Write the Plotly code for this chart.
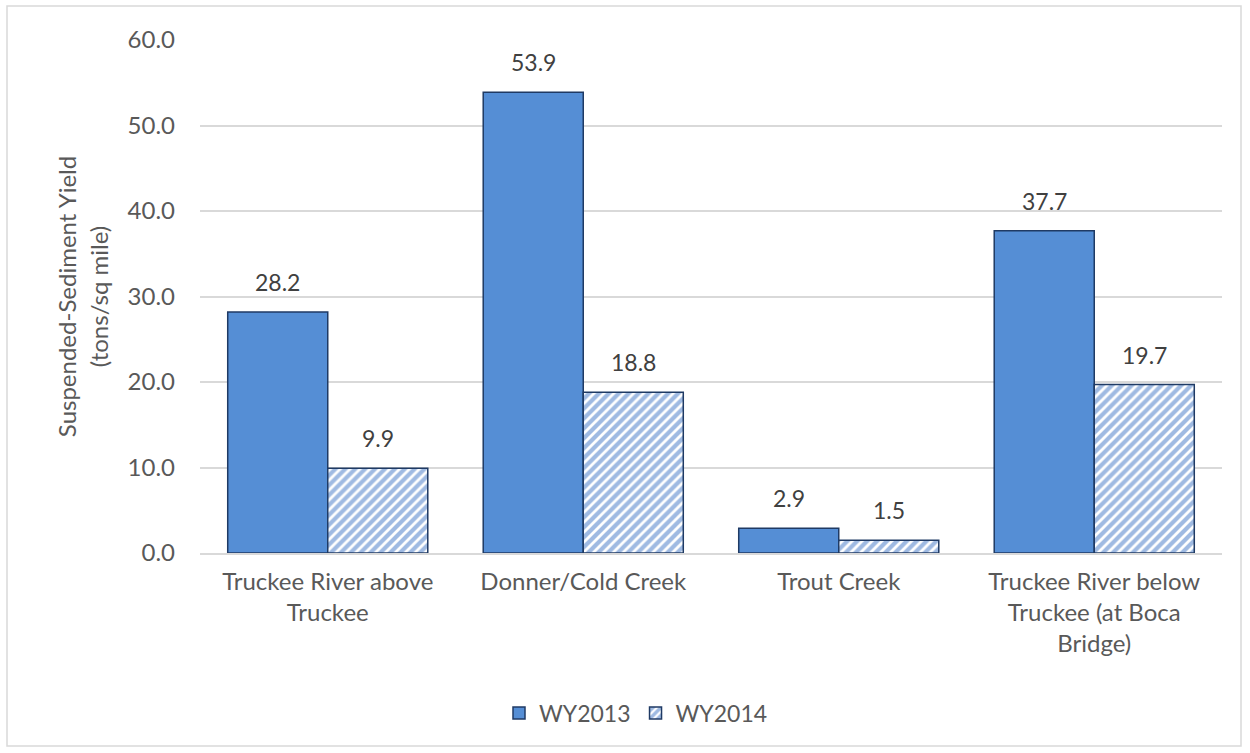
import plotly.graph_objects as go

# Suspended-sediment yield by site and water year
sites = [
    "Truckee River above<br>Truckee",
    "Donner/Cold Creek",
    "Trout Creek",
    "Truckee River below<br>Truckee (at Boca<br>Bridge)",
]
wy2013 = [28.2, 53.9, 2.9, 37.7]
wy2014 = [9.9, 18.8, 1.5, 19.7]
y_ticks = [0, 10, 20, 30, 40, 50, 60]

W, H = 1250, 753
M_L, M_R, M_T, M_B = 200, 28, 40, 200
BARGAP = 0.217
FONT = "Lato, Open Sans, sans-serif"
TEXT_GREY = "#595959"
BLUE = "#558ED5"
STRIPE = "#3F76C6"
EDGE = "#1F3A64"

fig = go.Figure()
fig.add_trace(go.Bar(
    name="WY2013", x=sites, y=wy2013,
    marker=dict(color=BLUE, line=dict(color=EDGE, width=1.5)),
))
fig.add_trace(go.Bar(
    name="WY2014", x=sites, y=wy2014,
    marker=dict(
        color="white",
        line=dict(color=EDGE, width=1.5),
        pattern=dict(shape="/", fgcolor=STRIPE, bgcolor="white",
                     size=7, solidity=0.6, fillmode="overlay"),
    ),
))

# value labels above each bar, shifted to the bar's slot within its group
plot_w = W - M_L - M_R
cat_px = plot_w / len(sites)
slot = (1 - BARGAP) / 2 * cat_px
for series, sign in ((wy2013, -1), (wy2014, 1)):
    for s, v in zip(sites, series):
        fig.add_annotation(
            x=s, y=v, text=f"{v:.1f}", showarrow=False,
            xshift=sign * slot / 2, yshift=30, yanchor="middle",
            font=dict(family=FONT, size=23, color="#404040"),
        )

# chart-area border
plot_h = H - M_T - M_B
fig.add_shape(
    type="rect", xref="paper", yref="paper",
    x0=(7 - M_L) / plot_w, x1=(1241 - M_L) / plot_w,
    y0=1 - (746 - M_T) / plot_h, y1=1 + (M_T - 6) / plot_h,
    line=dict(color="#D9D9D9", width=1.5), fillcolor="rgba(0,0,0,0)",
    layer="below",
)

fig.update_layout(
    width=W, height=H,
    margin=dict(l=M_L, r=M_R, t=M_T, b=M_B),
    paper_bgcolor="white", plot_bgcolor="white",
    barmode="group", bargap=BARGAP, bargroupgap=0,
    font=dict(family=FONT, size=24, color=TEXT_GREY),
    showlegend=True,
    legend=dict(
        orientation="h", x=(636 - M_L) / plot_w, xanchor="center",
        y=1 - (713 - M_T) / plot_h, yanchor="middle",
        font=dict(family=FONT, size=23, color=TEXT_GREY),
        itemwidth=30,
    ),
    xaxis=dict(
        showline=True, linecolor="#D9D9D9", linewidth=1.5,
        showgrid=False, ticks="", ticklabelstandoff=6,
        tickfont=dict(family=FONT, size=24, color=TEXT_GREY),
    ),
    yaxis=dict(
        range=[0, 60], tickvals=y_ticks, tickformat=".1f",
        showgrid=True, gridcolor="#D9D9D9", gridwidth=1.5,
        zeroline=False, showline=False, ticks="",
        ticklabelstandoff=24,
        tickfont=dict(family=FONT, size=24, color=TEXT_GREY),
        title=dict(
            text="Suspended-Sediment Yield<br>(tons/sq mile)",
            font=dict(family=FONT, size=24, color=TEXT_GREY),
            standoff=12,
        ),
    ),
)

fig.write_html("out.html")
